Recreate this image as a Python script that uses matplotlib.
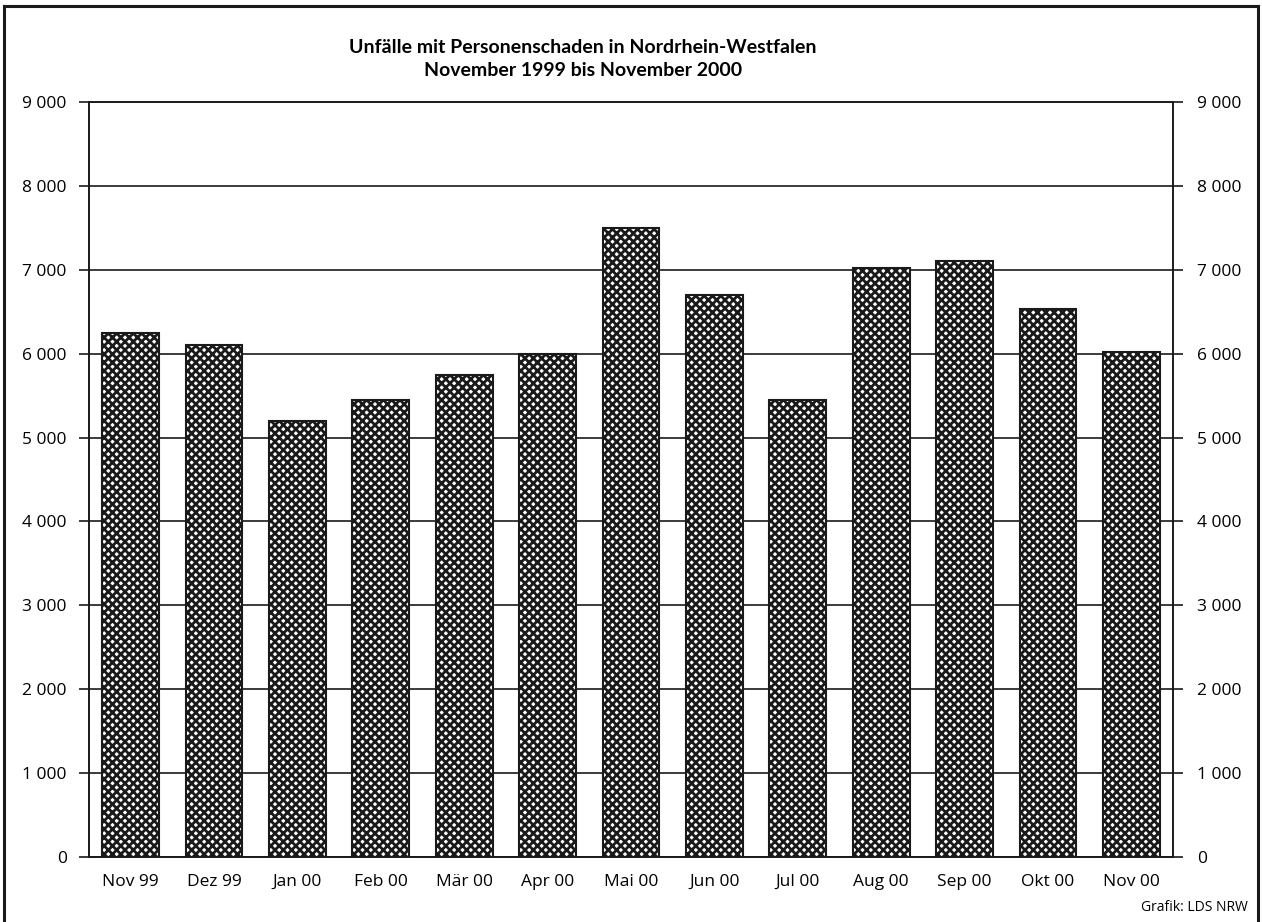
import numpy as np
import matplotlib.pyplot as plt
from matplotlib.lines import Line2D

months = ['Nov 99', 'Dez 99', 'Jan 00', 'Feb 00', 'Mär 00', 'Apr 00', 'Mai 00',
          'Jun 00', 'Jul 00', 'Aug 00', 'Sep 00', 'Okt 00', 'Nov 00']
unfaelle = [6250, 6100, 5200, 5450, 5740, 6000, 7500,
            6700, 5450, 7020, 7110, 6530, 6020]
yticks = [0, 1000, 2000, 3000, 4000, 5000, 6000, 7000, 8000, 9000]
ytick_labels = ['0', '1 000', '2 000', '3 000', '4 000', '5 000',
                '6 000', '7 000', '8 000', '9 000']

plt.rcParams['font.family'] = ['Open Sans', 'DejaVu Sans']
plt.rcParams['hatch.linewidth'] = 2.0
plt.rcParams['hatch.color'] = '#1a1a1a'

fig = plt.figure(figsize=(12.62, 9.22), dpi=100)
ax = fig.add_axes([0.0705, 0.0705, 0.8590, 0.8189])

x = np.arange(len(months))
ax.bar(x, unfaelle, width=0.68, facecolor='white', edgecolor='#1a1a1a',
       hatch='xxxx', linewidth=1.5, zorder=3)

ax.set_xlim(-0.5, len(months) - 0.5)
ax.set_ylim(0, 9000)
ax.set_yticks(yticks)
ax.set_yticklabels(ytick_labels, fontsize=12.5)
ax.set_xticks(x)
ax.set_xticklabels(months, fontsize=12.5)
for lab in ax.get_xticklabels():
    lab.set_verticalalignment('baseline')
ax.tick_params(axis='x', length=0, pad=21)
ax.tick_params(axis='y', length=7, width=1.2, pad=9, color='#1a1a1a')
ax.grid(axis='y', color='#1a1a1a', linewidth=1.2, zorder=0)
for s in ax.spines.values():
    s.set_linewidth(1.2)
    s.set_color('#1a1a1a')

ax2 = ax.twinx()
ax2.set_ylim(0, 9000)
ax2.set_yticks(yticks)
ax2.set_yticklabels(ytick_labels, fontsize=12.5)
ax2.tick_params(axis='y', length=7, width=1.2, pad=10, color='#1a1a1a')
for s in ax2.spines.values():
    s.set_linewidth(1.2)
    s.set_color('#1a1a1a')

fig.text(0.462, 0.948, 'Unfälle mit Personenschaden in Nordrhein-Westfalen',
         ha='center', va='center', fontsize=14, fontweight='bold', family='Lato')
fig.text(0.462, 0.923, 'November 1999 bis November 2000',
         ha='center', va='center', fontsize=14, fontweight='bold', family='Lato')
fig.text(0.989, 0.016, 'Grafik: LDS NRW', ha='right', va='center', fontsize=10)

# Rahmen um die Grafik
fig.add_artist(Line2D([0.003, 0.003], [0.0, 0.993], color='#1a1a1a', lw=2.2))
fig.add_artist(Line2D([0.003, 0.997], [0.993, 0.993], color='#1a1a1a', lw=2.2))
fig.add_artist(Line2D([0.997, 0.997], [0.0, 0.993], color='#1a1a1a', lw=2.2))

fig.savefig('out.png', dpi=100)
